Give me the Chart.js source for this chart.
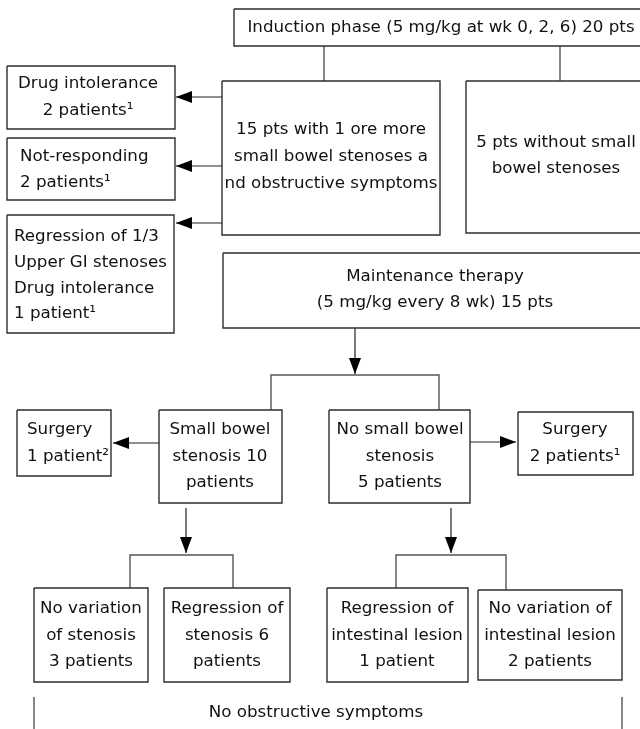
<!DOCTYPE html>
<html>
<head>
<meta charset="utf-8">
<script src="https://cdn.jsdelivr.net/npm/chart.js@4/dist/chart.umd.min.js"></script>
<style>
  html, body { margin: 0; padding: 0; background: #fff; }
  #wrap { width: 640px; height: 729px; }
</style>
</head>
<body>
<div id="wrap"><canvas id="flow" width="640" height="729"></canvas></div>
<script>
// box texts, one entry per box
const boxLabels = [
    ["Induction phase (5 mg/kg at wk 0, 2, 6) 20 pts"],
    ["15 pts with 1 ore more", "small bowel stenoses a", "nd obstructive symptoms"],
    ["5 pts without small", "bowel stenoses"],
    ["Drug intolerance", "2 patients\u00b9"],
    ["Not-responding", "2 patients\u00b9"],
    ["Regression of 1/3", "Upper GI stenoses", "Drug intolerance", "1 patient\u00b9"],
    ["Maintenance therapy", "(5 mg/kg every 8 wk) 15 pts"],
    ["Surgery", "1 patient\u00b2"],
    ["Small bowel", "stenosis 10", "patients"],
    ["No small bowel", "stenosis", "5 patients"],
    ["Surgery", "2 patients\u00b9"],
    ["No variation", "of stenosis", "3 patients"],
    ["Regression of", "stenosis 6", "patients"],
    ["Regression of", "intestinal lesion", "1 patient"],
    ["No variation of", "intestinal lesion", "2 patients"]
];
const footerLabel = "No obstructive symptoms";

// layout of the boxes in diagram units: [x0, y0, x1, y1]
const boxFrames = [
    [234, 9, 645, 46],
    [222, 81, 440, 235],
    [466, 81, 645, 233],
    [7, 66, 175, 129],
    [7, 138, 175, 200],
    [7, 215, 174, 333],
    [223, 253, 645, 328],
    [17, 410, 111, 476],
    [159, 410, 282, 503],
    [329, 410, 470, 503],
    [518, 412, 633, 475],
    [34, 588, 148, 682],
    [164, 588, 290, 682],
    [327, 588, 468, 682],
    [478, 590, 622, 680]
];
// text anchor per box: [x, firstLineY, lineStep, align]
const textAnchors = [
    [441, 28, 0, 'center'],
    [331, 130, 27, 'center'],
    [556, 143, 26, 'center'],
    [88, 84, 27, 'center'],
    [20, 157, 26, 'left'],
    [14, 237, 25.7, 'left'],
    [435, 277, 26, 'center'],
    [27, 430, 27, 'left'],
    [220, 430, 26.5, 'center'],
    [400, 430, 26.5, 'center'],
    [575, 430, 27, 'center'],
    [91, 609, 26.5, 'center'],
    [227, 609, 26.5, 'center'],
    [397, 609, 26.5, 'center'],
    [550, 609, 26.5, 'center']
];
const footerAnchor = [316, 713];

// plain connector lines
const connectors = [
    [[324, 46], [324, 81]],
    [[560, 46], [560, 81]],
    [[271, 410], [271, 375], [439, 375], [439, 410]],
    [[130, 588], [130, 555], [233, 555], [233, 588]],
    [[396, 588], [396, 555], [506, 555], [506, 590]],
    [[34, 697], [34, 732]],
    [[622, 697], [622, 732]]
];
// arrows: [from, tip]
const arrows = [
    [[222, 97], [176, 97]],
    [[222, 166], [176, 166]],
    [[222, 223], [176, 223]],
    [[355, 328], [355, 374]],
    [[159, 443], [113, 443]],
    [[470, 442], [516, 442]],
    [[186, 508], [186, 553]],
    [[451, 508], [451, 553]]
];

const FONT = '16.7px "DejaVu Sans", Verdana, sans-serif';

function pts(list) {
    return list.map(p => ({x: p[0], y: p[1]}));
}

let datasets = [];
boxFrames.forEach(function (b) {
    datasets.push({
        data: pts([[b[0], b[1]], [b[2], b[1]], [b[2], b[3]], [b[0], b[3]], [b[0], b[1]]]),
        borderColor: '#2e2e2e',
        borderWidth: 1.4
    });
});
connectors.forEach(function (c) {
    datasets.push({data: pts(c), borderColor: '#555', borderWidth: 1.4});
});
arrows.forEach(function (a) {
    datasets.push({data: pts(a), borderColor: '#222', borderWidth: 1.2});
});
datasets.forEach(function (d) {
    d.showLine = true;
    d.pointRadius = 0;
    d.fill = false;
    d.tension = 0;
});

const labelPlugin = {
    id: 'flowLabels',
    afterDatasetsDraw(chart) {
        const ctx = chart.ctx;
        const sx = chart.scales.x, sy = chart.scales.y;
        ctx.save();

        // arrow heads
        ctx.fillStyle = '#000';
        arrows.forEach(function (a) {
            const x0 = sx.getPixelForValue(a[0][0]), y0 = sy.getPixelForValue(a[0][1]);
            const x1 = sx.getPixelForValue(a[1][0]), y1 = sy.getPixelForValue(a[1][1]);
            const ang = Math.atan2(y1 - y0, x1 - x0);
            const len = 16, half = 6;
            ctx.beginPath();
            ctx.moveTo(x1, y1);
            ctx.lineTo(x1 - len * Math.cos(ang) + half * Math.sin(ang), y1 - len * Math.sin(ang) - half * Math.cos(ang));
            ctx.lineTo(x1 - len * Math.cos(ang) - half * Math.sin(ang), y1 - len * Math.sin(ang) + half * Math.cos(ang));
            ctx.closePath();
            ctx.fill();
        });

        // texts
        ctx.font = FONT;
        ctx.fillStyle = '#111';
        ctx.textBaseline = 'middle';
        boxLabels.forEach(function (lines, i) {
            const t = textAnchors[i];
            ctx.textAlign = t[3];
            lines.forEach(function (line, k) {
                ctx.fillText(line, sx.getPixelForValue(t[0]), sy.getPixelForValue(t[1] + k * t[2]));
            });
        });
        ctx.textAlign = 'center';
        ctx.fillText(footerLabel, sx.getPixelForValue(footerAnchor[0]), sy.getPixelForValue(footerAnchor[1]));
        ctx.restore();
    }
};

const flowChart = new Chart(document.getElementById('flow'), {
    type: 'scatter',
    data: {datasets: datasets},
    options: {
        responsive: false,
        animation: false,
        layout: {padding: 0},
        scales: {
            x: {type: 'linear', min: 0, max: 640, display: false},
            y: {type: 'linear', min: 0, max: 729, reverse: true, display: false}
        },
        plugins: {
            legend: {display: false},
            tooltip: {enabled: false}
        }
    },
    plugins: [labelPlugin]
});
</script>
</body>
</html>
